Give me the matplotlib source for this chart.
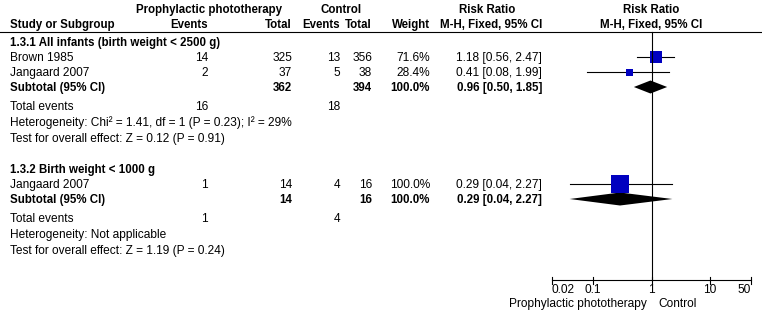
import matplotlib
matplotlib.use("Agg")
import matplotlib.pyplot as plt

plt.rcParams['font.family'] = ['Liberation Sans', 'DejaVu Sans']

# group titles
groups = ["1.3.1 All infants (birth weight < 2500 g)", "1.3.2 Birth weight < 1000 g"]

# studies (per group)
study_names = [["Brown 1985", "Jangaard 2007"], ["Jangaard 2007"]]
photo_events = [[14, 2], [1]]
photo_total = [[325, 37], [14]]
ctrl_events = [[13, 5], [4]]
ctrl_total = [[356, 38], [16]]
weights = [[71.6, 28.4], [100.0]]
rr = [[1.18, 0.41], [0.29]]
rr_lo = [[0.56, 0.08], [0.04]]
rr_hi = [[2.47, 1.99], [2.27]]

# subtotals
sub_photo_total = [362, 14]
sub_ctrl_total = [394, 16]
sub_weight = [100.0, 100.0]
sub_rr = [0.96, 0.29]
sub_lo = [0.50, 0.04]
sub_hi = [1.85, 2.27]
sub_photo_events = [16, 1]
sub_ctrl_events = [18, 4]
heterogeneity = ["Heterogeneity: Chi² = 1.41, df = 1 (P = 0.23); I² = 29%",
                 "Heterogeneity: Not applicable"]
overall = ["Test for overall effect: Z = 0.12 (P = 0.91)",
           "Test for overall effect: Z = 1.19 (P = 0.24)"]

ticks = [0.02, 0.1, 1, 10, 50]
tick_labels = ["0.02", "0.1", "1", "10", "50"]

W, H = 762, 320
fig = plt.figure(figsize=(W / 100, H / 100), dpi=100)
tx = fig.add_axes([0, 0, 1, 1])
tx.set_xlim(0, W)
tx.set_ylim(H, 0)
tx.axis('off')

# forest panel: x from 0.02 (px 552) to 50 (px 751)
x0, x1 = 552, 751
fx = fig.add_axes([x0 / W, 0, (x1 - x0) / W, 1])
fx.set_xscale('log')
fx.set_xlim(0.02, 50)
fx.set_ylim(H, 0)
fx.axis('off')

FS = 8.6
FB = 8.3
BLUE = '#0000C0'
LW = 0.8


def t(x, y, s, ha='left', bold=False, ax=tx):
    # y is the visual middle of the capitals; draw on the baseline below it
    ax.text(x, y + 4.2, s, ha=ha, va='baseline', fontsize=FB if bold else FS,
            fontweight='bold' if bold else 'normal', color='black', clip_on=False)


# headers
t(209, 9, "Prophylactic phototherapy", 'center', True)
t(341, 9, "Control", 'center', True)
t(487, 9, "Risk Ratio", 'center', True)
t(651, 9, "Risk Ratio", 'center', True)
t(10, 24, "Study or Subgroup", bold=True)
t(208, 24, "Events", 'right', True)
t(292, 24, "Total", 'right', True)
t(340, 24, "Events", 'right', True)
t(372, 24, "Total", 'right', True)
t(430, 24, "Weight", 'right', True)
t(542, 24, "M-H, Fixed, 95% CI", 'right', True)
t(651, 24, "M-H, Fixed, 95% CI", 'center', True)
tx.plot([0, W], [32, 32], color='black', lw=LW)

group_top = [42, 169]
for g in range(len(groups)):
    y = group_top[g]
    t(10, y, groups[g], bold=True)
    y += 15
    for i, name in enumerate(study_names[g]):
        t(10, y, name)
        t(208, y, str(photo_events[g][i]), 'right')
        t(292, y, str(photo_total[g][i]), 'right')
        t(340, y, str(ctrl_events[g][i]), 'right')
        t(372, y, str(ctrl_total[g][i]), 'right')
        t(430, y, f"{weights[g][i]:.1f}%", 'right')
        t(542, y, f"{rr[g][i]:.2f} [{rr_lo[g][i]:.2f}, {rr_hi[g][i]:.2f}]", 'right')
        fx.plot([rr_lo[g][i], rr_hi[g][i]], [y, y], color='black', lw=LW)
        side = max(18 * weights[g][i] / 100, 7) * 0.72
        fx.plot([rr[g][i]], [y], marker='s', ms=side, color=BLUE, mec=BLUE, mew=0)
        y += 15
    t(10, y, "Subtotal (95% CI)", bold=True)
    t(292, y, str(sub_photo_total[g]), 'right', True)
    t(372, y, str(sub_ctrl_total[g]), 'right', True)
    t(430, y, f"{sub_weight[g]:.1f}%", 'right', True)
    t(542, y, f"{sub_rr[g]:.2f} [{sub_lo[g]:.2f}, {sub_hi[g]:.2f}]", 'right', True)
    h = 6.5
    fx.fill([sub_lo[g], sub_rr[g], sub_hi[g], sub_rr[g]], [y, y - h, y, y + h],
            color='black', lw=0)
    y += 19
    t(10, y, "Total events")
    t(208, y, str(sub_photo_events[g]), 'right')
    t(340, y, str(sub_ctrl_events[g]), 'right')
    y += 16
    t(10, y, heterogeneity[g])
    y += 16
    t(10, y, overall[g])

# line of no effect and axis
fx.plot([1, 1], [32, 280], color='black', lw=LW, clip_on=False)
fx.plot([0.02, 50], [280, 280], color='black', lw=LW, clip_on=False)
for v, lab in zip(ticks, tick_labels):
    fx.plot([v, v], [276.5, 284], color='black', lw=LW, clip_on=False)
    ha = 'left' if v == ticks[0] else ('right' if v == ticks[-1] else 'center')
    t(v, 289, lab, ha, ax=fx)
t(647, 303, "Prophylactic phototherapy", 'right')
t(658, 303, "Control", 'left')

fig.savefig("out.png", dpi=100)
